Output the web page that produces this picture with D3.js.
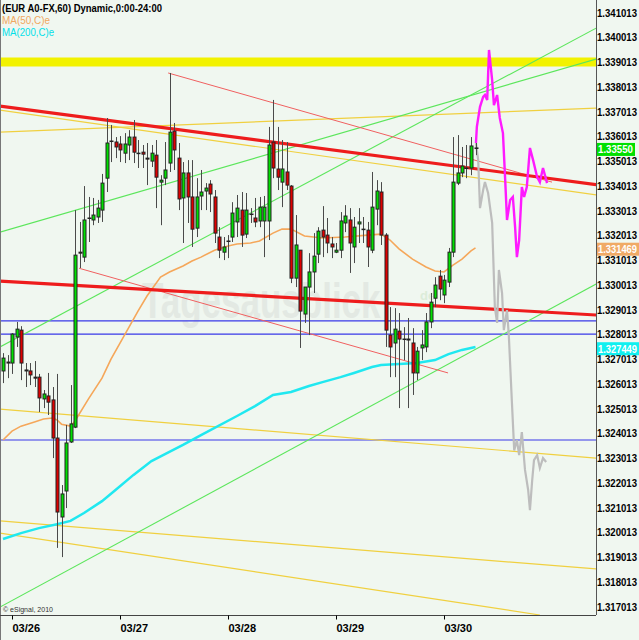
<!DOCTYPE html>
<html>
<head>
<meta charset="utf-8">
<script src="https://cdn.jsdelivr.net/npm/d3@7/dist/d3.min.js"></script>
<style>
  body { margin: 0; background: #f0f7f0; }
  svg text { font-family: 'Liberation Sans', Arial, sans-serif; }
</style>
</head>
<body>
<div id="chart"></div>
<script>
// hourly bars, first bar is index -2 (03/25 22:00), index 0 = 03/26 00:00
var first_bar = -2;
var opens = [1.32655,1.32691,1.32687,1.32792,1.3282,1.32659,1.32655,1.3263,1.3263,1.32542,1.32554,1.32538,1.32384,1.32065,1.3217,1.32368,1.32428,1.33135,1.33115,1.33273,1.33265,1.33277,1.33305,1.33434,1.33584,1.3358,1.33572,1.33535,1.33568,1.336,1.33535,1.33539,1.33515,1.33503,1.33527,1.33418,1.33434,1.33495,1.33624,1.33515,1.33354,1.33455,1.33358,1.33232,1.33362,1.33382,1.3341,1.33358,1.33196,1.33135,1.3318,1.33196,1.33257,1.33305,1.33208,1.33289,1.33273,1.33261,1.33261,1.33261,1.3358,1.33471,1.33418,1.33459,1.33402,1.3303,1.33143,1.32885,1.32994,1.33055,1.33127,1.33224,1.33204,1.33168,1.33135,1.33143,1.33253,1.33265,1.33156,1.33249,1.33228,1.33224,1.33143,1.33309,1.33378,1.33204,1.328,1.32768,1.32816,1.32784,1.32784,1.32768,1.32647,1.32748,1.32752,1.32853,1.32949,1.33038,1.32962,1.33014,1.33135,1.33414,1.33455,1.33475,1.33475,1.33556];
var highs = [1.32727,1.32719,1.32808,1.32853,1.32836,1.32687,1.32687,1.32695,1.32643,1.32578,1.32647,1.3259,1.32643,1.32194,1.32437,1.32598,1.33305,1.33257,1.33402,1.33358,1.33354,1.33346,1.33451,1.33677,1.33649,1.336,1.33604,1.33616,1.33628,1.33669,1.33588,1.33568,1.33576,1.33568,1.33588,1.33446,1.3358,1.33859,1.33657,1.33576,1.33499,1.33507,1.33507,1.33434,1.33467,1.33414,1.33426,1.33386,1.33236,1.33196,1.33204,1.33337,1.33366,1.33378,1.33374,1.33313,1.33354,1.33358,1.33362,1.33641,1.3375,1.33641,1.33588,1.3358,1.33406,1.33285,1.33143,1.32994,1.33131,1.33212,1.33236,1.33321,1.33273,1.33196,1.33172,1.33297,1.33325,1.33313,1.33277,1.33313,1.33277,1.33257,1.33459,1.33426,1.33418,1.33212,1.32913,1.32909,1.32889,1.32832,1.32869,1.32828,1.32752,1.3282,1.32889,1.3297,1.33034,1.33063,1.33043,1.33152,1.336,1.33608,1.3356,1.33568,1.336,1.33576];
var lows = [1.32606,1.32626,1.32643,1.32752,1.32618,1.3259,1.32598,1.3259,1.32489,1.32505,1.32477,1.32303,1.3194,1.31903,1.32101,1.32364,1.32424,1.33071,1.33095,1.33176,1.33244,1.33253,1.33257,1.33378,1.33499,1.33515,1.33499,1.33495,1.33507,1.33495,1.33475,1.33475,1.33406,1.33479,1.33313,1.33244,1.33406,1.33459,1.33467,1.33305,1.33172,1.33253,1.33156,1.33196,1.33305,1.33305,1.33297,1.33172,1.33111,1.33103,1.33111,1.33176,1.33196,1.33156,1.33192,1.33253,1.33236,1.33236,1.33115,1.33184,1.33434,1.33386,1.33317,1.33386,1.3301,1.32994,1.32748,1.32849,1.328,1.3297,1.33091,1.33115,1.33131,1.33111,1.33131,1.33111,1.33216,1.33051,1.33091,1.33172,1.33172,1.33075,1.33131,1.33244,1.33164,1.32752,1.3263,1.3263,1.32505,1.32699,1.32505,1.32558,1.32618,1.32699,1.32731,1.32828,1.32913,1.32941,1.32929,1.32994,1.33115,1.33406,1.33438,1.33434,1.33446,1.33527];
var closes = [1.32707,1.32687,1.32804,1.32824,1.32687,1.32655,1.32639,1.32626,1.32546,1.32562,1.32529,1.32384,1.32085,1.32158,1.32364,1.32441,1.33123,1.33131,1.33265,1.33273,1.33285,1.33313,1.33414,1.33576,1.33584,1.3356,1.33548,1.33572,1.336,1.33539,1.33535,1.33531,1.33511,1.33535,1.33438,1.33426,1.33467,1.3362,1.33548,1.3335,1.33455,1.33358,1.33228,1.33358,1.33378,1.33394,1.3337,1.33212,1.33143,1.33156,1.3318,1.33293,1.33313,1.33204,1.33305,1.33289,1.33257,1.33317,1.33317,1.33568,1.33475,1.33438,1.33471,1.33406,1.3303,1.33164,1.32897,1.32994,1.33055,1.33119,1.3322,1.33196,1.33172,1.33156,1.33143,1.33261,1.33281,1.33172,1.33236,1.33257,1.33228,1.33156,1.33317,1.33382,1.33204,1.3282,1.32752,1.32824,1.32784,1.32784,1.3278,1.32647,1.32735,1.3276,1.32853,1.32933,1.33002,1.32986,1.33022,1.33135,1.33418,1.33455,1.33483,1.33475,1.33564,1.33556];

// moving averages read at some bars
var ma50_bars = [-2,0,2,5,7,9,10,11,13,14,17,20,22,25,28,30,33,35,38,40,42,45,48,50,53,55,58,60,62,65,69,74,79,82,84,86,89,92,94,96,98,100,102,103];
var ma50_vals = [1.32376,1.32412,1.32432,1.32449,1.32461,1.32465,1.32457,1.3244,1.32432,1.32453,1.32542,1.32626,1.32703,1.328,1.32897,1.32958,1.33034,1.33055,1.33079,1.33099,1.33115,1.33143,1.3316,1.33168,1.33172,1.3318,1.33212,1.33228,1.33228,1.332,1.33192,1.33196,1.33204,1.33208,1.33184,1.33148,1.33107,1.33075,1.33059,1.33055,1.33083,1.33107,1.3314,1.33152];
var ma200_bars = [-2,2,6,10,13,16,20,23,27,31,34,38,42,50,54,58,62,66,69,73,76,80,82,86,90,94,97,100,103];
var ma200_vals = [1.31976,1.32,1.3202,1.32036,1.32049,1.32081,1.32129,1.32174,1.32235,1.32291,1.32319,1.32356,1.32396,1.32473,1.32513,1.32558,1.3257,1.32594,1.3261,1.3263,1.32647,1.32671,1.32679,1.32683,1.32687,1.32699,1.32723,1.3274,1.32752];

// projected paths
var gray_bars = [103.1,103.6,104,104.7,105.1,105.8,106.7,107.3,107.8,108.2,108.9,109.3,110,110.4,111.1,111.6,112.2,112.7,113.3,114,114.7,115.1,115.6,116,116.7,117.3,118,118.7];
var gray_vals = [1.33576,1.33507,1.33313,1.33386,1.33418,1.33374,1.33253,1.32913,1.32849,1.33063,1.3297,1.3282,1.32901,1.328,1.32525,1.32334,1.32376,1.32315,1.32408,1.32255,1.32174,1.32093,1.32214,1.32295,1.32315,1.32263,1.32303,1.32287];
var pink_bars = [103.1,103.3,104,104.7,105.1,105.6,106,106.7,107.1,107.8,108.4,109.1,109.6,110,110.7,111.3,111.8,112.2,112.7,113.3,113.8,114.4,115.1,115.8,116.7,117.3,118,118.9];
var pink_vals = [1.33576,1.33641,1.33722,1.33762,1.3377,1.3375,1.33952,1.3383,1.33729,1.3377,1.33677,1.33616,1.33426,1.33265,1.33346,1.33358,1.33236,1.33115,1.33184,1.33398,1.33358,1.33398,1.33556,1.33507,1.33438,1.33418,1.33475,1.33414];

// drawn studies: [bar, price, bar, price]
var band_price = 1.33903;
var blue_levels = [1.32857, 1.32804, 1.32376];
var red_thick = [[-2.67,1.33725,129.8,1.33408],[-2.67,1.33018,129.8,1.32881]];
var red_thin = [[34.7,1.33859,120,1.33418],[14.9,1.3307,96.9,1.32647]];
var yellow_lines = [[-2.67,1.3362,129.8,1.33717],[-2.67,1.33709,129.8,1.33366],[-2.67,1.32501,129.8,1.32303],[-2.67,1.32049,129.8,1.31855],[-2.67,1.32,117.3,1.31669]];
var green_lines = [[-2.67,1.33216,129.8,1.33915],[-2.67,1.32752,129.8,1.3404],[-2.67,1.31701,129.8,1.33006]];

var day_bars = [0, 24, 48, 72, 96];
var day_labels = ['03/26', '03/27', '03/28', '03/29', '03/30'];
var price_ticks = d3.range(0, 25).map(function(k){ return 1.317013 + k * 0.001; });
var last_price = 1.33550, ma50_last = 1.331469, ma200_last = 1.327449;

var chart_width = 639;
var chart_height = 640;
var plot_right = 596;
var plot_bottom = 615;

var svg = d3.select('#chart')
  .append('svg')
  .attr('width', chart_width)
  .attr('height', chart_height);

svg.append('rect')
  .attr('width', chart_width)
  .attr('height', chart_height)
  .attr('fill', '#f0f7f0');

svg.append('clipPath')
  .attr('id', 'plot')
  .append('rect')
  .attr('width', plot_right)
  .attr('height', plot_bottom);

var x_scale = d3.scaleLinear()
  .domain([0, 24])
  .range([12, 120]);

var y_scale = d3.scaleLinear()
  .domain([1.317013, 1.341013])
  .range([607, 13]);

var plot = svg.append('g').attr('clip-path', 'url(#plot)');

// watermark, squeezed with a transform so its box stays short
plot.append('text')
  .text('Tagesausblick')
  .attr('transform', 'translate(142,318) scale(0.7,1)')
  .attr('font-size', '50px')
  .attr('font-weight', 'bold')
  .attr('fill', '#e3e9e3');
plot.append('text')
  .text('de')
  .attr('x', 420)
  .attr('y', 300)
  .attr('font-size', '13px')
  .attr('font-weight', 'bold')
  .attr('fill', '#dcecd9');

// yellow band
plot.append('line')
  .attr('x1', 0).attr('x2', plot_right)
  .attr('y1', y_scale(band_price)).attr('y2', y_scale(band_price))
  .attr('stroke', '#f2f200')
  .attr('stroke-width', 9);

plot.selectAll('.blue')
  .data(blue_levels)
  .enter()
  .append('line')
  .attr('x1', 0).attr('x2', plot_right)
  .attr('y1', function(d){ return y_scale(d); })
  .attr('y2', function(d){ return y_scale(d); })
  .attr('stroke', '#3838e8')
  .attr('stroke-width', 1.2);

function drawSegs(list, color, width){
  plot.selectAll(null)
    .data(list)
    .enter()
    .append('line')
    .attr('x1', function(d){ return x_scale(d[0]); })
    .attr('y1', function(d){ return y_scale(d[1]); })
    .attr('x2', function(d){ return x_scale(d[2]); })
    .attr('y2', function(d){ return y_scale(d[3]); })
    .attr('stroke', color)
    .attr('stroke-width', width);
}

drawSegs(yellow_lines, '#f0d040', 1.2);
drawSegs(green_lines, '#5ce65c', 1.1);
drawSegs(red_thin, '#f06060', 1);

// moving averages
var line_gen = d3.line()
  .x(function(d){ return x_scale(d[0]); })
  .y(function(d){ return y_scale(d[1]); });

plot.append('path')
  .attr('d', line_gen(d3.zip(ma50_bars, ma50_vals)))
  .attr('fill', 'none')
  .attr('stroke', '#f5a75a')
  .attr('stroke-width', 1.6);

plot.append('path')
  .attr('d', line_gen(d3.zip(ma200_bars, ma200_vals)))
  .attr('fill', 'none')
  .attr('stroke', '#20e8f0')
  .attr('stroke-width', 2.5);

drawSegs(red_thick, '#ee1c1c', 3.2);

// projections
plot.append('path')
  .attr('d', line_gen(d3.zip(gray_bars, gray_vals)))
  .attr('fill', 'none')
  .attr('stroke', '#bdbdbd')
  .attr('stroke-width', 2.2);

plot.append('path')
  .attr('d', line_gen(d3.zip(pink_bars, pink_vals)))
  .attr('fill', 'none')
  .attr('stroke', '#ff1aff')
  .attr('stroke-width', 2.4);

// candles
var bars = opens.map(function(o, k){
  return {i: first_bar + k, o: o, h: highs[k], l: lows[k], c: closes[k]};
});

var candles = plot.selectAll('.candle')
  .data(bars)
  .enter()
  .append('g')
  .attr('class', 'candle');

candles.append('line')
  .attr('x1', function(d){ return Math.round(x_scale(d.i)) + 0.5; })
  .attr('x2', function(d){ return Math.round(x_scale(d.i)) + 0.5; })
  .attr('y1', function(d){ return y_scale(d.h); })
  .attr('y2', function(d){ return y_scale(d.l); })
  .attr('stroke', '#4a4a4a')
  .attr('stroke-width', 1);

candles.append('rect')
  .attr('x', function(d){ return Math.round(x_scale(d.i)) - 1; })
  .attr('y', function(d){ return y_scale(Math.max(d.o, d.c)); })
  .attr('width', 3)
  .attr('height', function(d){ return Math.max(0.5, y_scale(Math.min(d.o, d.c)) - y_scale(Math.max(d.o, d.c))); })
  .attr('fill', function(d){ return d.c >= d.o ? '#00e000' : '#e00000'; })
  .attr('stroke', '#222')
  .attr('stroke-width', 1);

// frame
svg.append('line')
  .attr('x1', plot_right + 0.5).attr('x2', plot_right + 0.5)
  .attr('y1', 0).attr('y2', plot_bottom)
  .attr('stroke', '#555');
svg.append('line')
  .attr('x1', 0.5).attr('x2', 0.5)
  .attr('y1', 0).attr('y2', chart_height)
  .attr('stroke', '#777');

var x_axis = d3.axisBottom(x_scale)
  .tickValues(day_bars)
  .tickFormat(function(d, k){ return day_labels[k]; })
  .tickSize(4)
  .tickPadding(5);

var gx = svg.append('g')
  .attr('transform', 'translate(0,' + (plot_bottom + 0.5) + ')')
  .call(x_axis);
gx.select('.domain').attr('d', 'M0,0H' + plot_right).attr('stroke', '#444');
gx.selectAll('text')
  .attr('text-anchor', 'start')
  .attr('font-size', '11px')
  .attr('font-weight', 'bold')
  .attr('fill', '#000')
  .attr('font-family', "'Liberation Sans', Arial, sans-serif");

var y_axis = d3.axisRight(y_scale)
  .tickValues(price_ticks)
  .tickFormat(d3.format('.6f'))
  .tickSize(0)
  .tickPadding(1);

var gy = svg.append('g')
  .attr('transform', 'translate(' + plot_right + ',0)')
  .call(y_axis);
gy.select('.domain').remove();
gy.selectAll('text')
  .attr('font-size', '10px')
  .attr('font-weight', 'bold')
  .attr('fill', '#000')
  .attr('textLength', 40)
  .attr('lengthAdjust', 'spacingAndGlyphs')
  .attr('font-family', "'Liberation Sans', Arial, sans-serif");

// value tags on the price axis
var tags = [
  {v: last_price, label: '1.33550', fill: '#00e000', w: 38},
  {v: ma50_last, label: '1.331469', fill: '#f0aa66', w: 42},
  {v: ma200_last, label: '1.327449', fill: '#10f0f0', w: 42}
];
var tag = svg.selectAll('.tag')
  .data(tags)
  .enter()
  .append('g')
  .attr('class', 'tag');
tag.append('rect')
  .attr('x', plot_right + 1)
  .attr('y', function(d){ return y_scale(d.v) - 6.5; })
  .attr('width', function(d){ return d.w; })
  .attr('height', 13)
  .attr('fill', function(d){ return d.fill; });
tag.append('text')
  .text(function(d){ return d.label; })
  .attr('x', plot_right + 2)
  .attr('y', function(d){ return y_scale(d.v) + 4; })
  .attr('font-size', '10px')
  .attr('font-weight', 'bold')
  .attr('fill', '#fff')
  .attr('textLength', function(d){ return d.w - 3; })
  .attr('lengthAdjust', 'spacingAndGlyphs');

// header texts
svg.append('text')
  .text('(EUR A0-FX,60) Dynamic,0:00-24:00')
  .attr('x', 2).attr('y', 12)
  .attr('font-size', '11px')
  .attr('font-weight', 'bold')
  .attr('textLength', 160)
  .attr('lengthAdjust', 'spacingAndGlyphs');
svg.append('text')
  .text('MA(50,C)e')
  .attr('x', 2).attr('y', 24)
  .attr('font-size', '11px')
  .attr('fill', '#f0a860')
  .attr('textLength', 48)
  .attr('lengthAdjust', 'spacingAndGlyphs');
svg.append('text')
  .text('MA(200,C)e')
  .attr('x', 2).attr('y', 36)
  .attr('font-size', '11px')
  .attr('fill', '#00e0e8')
  .attr('textLength', 52)
  .attr('lengthAdjust', 'spacingAndGlyphs');

svg.append('text')
  .text('\u00a9 eSignal, 2010')
  .attr('x', 3).attr('y', 612)
  .attr('font-size', '7px')
  .attr('fill', '#333');
</script>
</body>
</html>
